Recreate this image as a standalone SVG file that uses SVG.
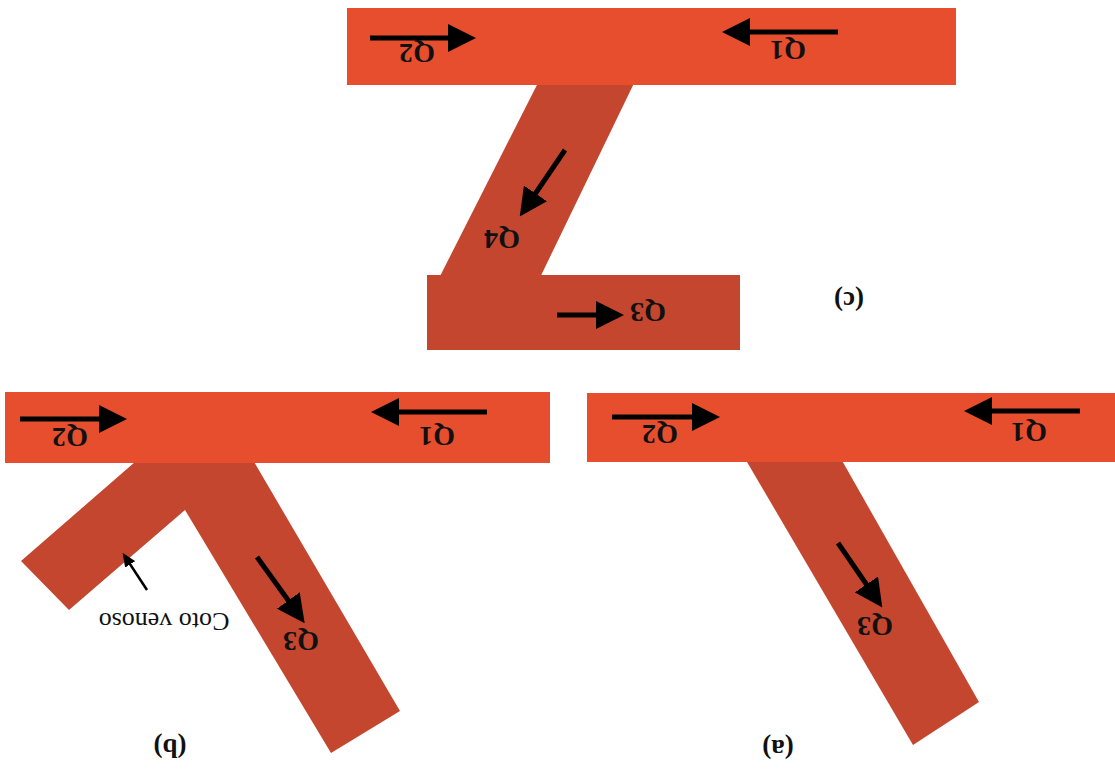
<svg xmlns="http://www.w3.org/2000/svg" width="1115" height="772" viewBox="0 0 1115 772">
  <style>
    .bar { fill: #e64e2d; }
    .branch { fill: #c5462f; }
    .q { font-family: "Liberation Serif", serif; font-weight: bold; font-size: 28px; fill: #111; text-anchor: middle; }
    .lbl { font-family: "Liberation Serif", serif; font-weight: bold; font-size: 27px; fill: #111; text-anchor: middle; }
    .note { font-family: "Liberation Serif", serif; font-size: 26px; fill: #111; text-anchor: middle; }
    .flow { stroke: #000; stroke-width: 5; fill: none; marker-end: url(#head); }
    .thin { stroke: #000; stroke-width: 2.5; fill: none; marker-end: url(#headSmall); }
  </style>
  <defs>
    <marker id="head" markerUnits="userSpaceOnUse" viewBox="0 0 28 28" markerWidth="28" markerHeight="28" refX="8" refY="14" orient="auto">
      <path d="M0,0 L28,14 L0,28 z" fill="#000"/>
    </marker>
    <marker id="headSmall" markerUnits="userSpaceOnUse" viewBox="0 0 14 12" markerWidth="14" markerHeight="12" refX="4" refY="6" orient="auto">
      <path d="M0,0 L14,6 L0,12 z" fill="#000"/>
    </marker>
  </defs>
  <rect width="1115" height="772" fill="#fff"/>

  <!-- Panel (c) -->
  <g id="c-branch">
    <polygon class="branch" points="542,75 638,75 534,290 433,290"/>
  </g>
  <g id="c-bottom">
    <rect class="branch" x="427" y="275" width="313" height="75"/>
  </g>
  <g id="c-top">
    <rect class="bar" x="347" y="8" width="609" height="77"/>
  </g>
  <g id="c-label">
    <text class="lbl" x="849" y="301" dy="0.35em" transform="rotate(180 849 301)">(c)</text>
  </g>

  <!-- Panel (b) -->
  <g id="b-branch">
    <polygon class="branch" points="143,455 250,455 400,711 331,753 185,510 69,610 21,561"/>
  </g>
  <g id="b-bar">
    <rect class="bar" x="5" y="392" width="545" height="71"/>
  </g>
  <g id="b-label">
    <text class="lbl" x="170" y="748" dy="0.35em" transform="rotate(180 170 748)">(b)</text>
    <text class="note" x="164" y="622" dy="0.35em" transform="rotate(180 164 622)">Coto venoso</text>
  </g>

  <!-- Panel (a) -->
  <g id="a-branch">
    <polygon class="branch" points="740,450 836,450 979,702 913,745"/>
  </g>
  <g id="a-bar">
    <rect class="bar" x="587" y="393" width="528" height="69"/>
  </g>
  <g id="a-label">
    <text class="lbl" x="778" y="749" dy="0.35em" transform="rotate(180 778 749)">(a)</text>
  </g>

  <!-- Flow arrows -->
  <g id="connectors">
    <line class="flow" x1="370" y1="38" x2="456" y2="38"/>
    <line class="flow" x1="838" y1="32" x2="742" y2="32"/>
    <line class="flow" x1="565" y1="150" x2="531" y2="200"/>
    <line class="flow" x1="557" y1="315" x2="604" y2="315"/>
    <line class="flow" x1="20" y1="419" x2="107" y2="419"/>
    <line class="flow" x1="487" y1="412" x2="391" y2="412"/>
    <line class="flow" x1="257" y1="557" x2="293" y2="607"/>
    <line class="thin" x1="147" y1="590" x2="128" y2="561"/>
    <line class="flow" x1="612" y1="417" x2="700" y2="417"/>
    <line class="flow" x1="1080" y1="411" x2="984" y2="411"/>
    <line class="flow" x1="838" y1="543" x2="871" y2="591"/>
  </g>

  <!-- Flow labels -->
  <g id="flow-labels">
    <text class="q" x="417" y="54" dy="0.35em" transform="rotate(180 417 54)">Q2</text>
    <text class="q" x="788" y="51" dy="0.35em" transform="rotate(180 788 51)">Q1</text>
    <text class="q" x="502" y="240" dy="0.35em" transform="rotate(180 502 240)">Q4</text>
    <text class="q" x="648" y="313" dy="0.35em" transform="rotate(180 648 313)">Q3</text>
    <text class="q" x="70" y="438" dy="0.35em" transform="rotate(180 70 438)">Q2</text>
    <text class="q" x="437" y="437" dy="0.35em" transform="rotate(180 437 437)">Q1</text>
    <text class="q" x="301" y="642" dy="0.35em" transform="rotate(180 301 642)">Q3</text>
    <text class="q" x="660" y="435" dy="0.35em" transform="rotate(180 660 435)">Q2</text>
    <text class="q" x="1029" y="433" dy="0.35em" transform="rotate(180 1029 433)">Q1</text>
    <text class="q" x="875" y="627" dy="0.35em" transform="rotate(180 875 627)">Q3</text>
  </g>
</svg>
